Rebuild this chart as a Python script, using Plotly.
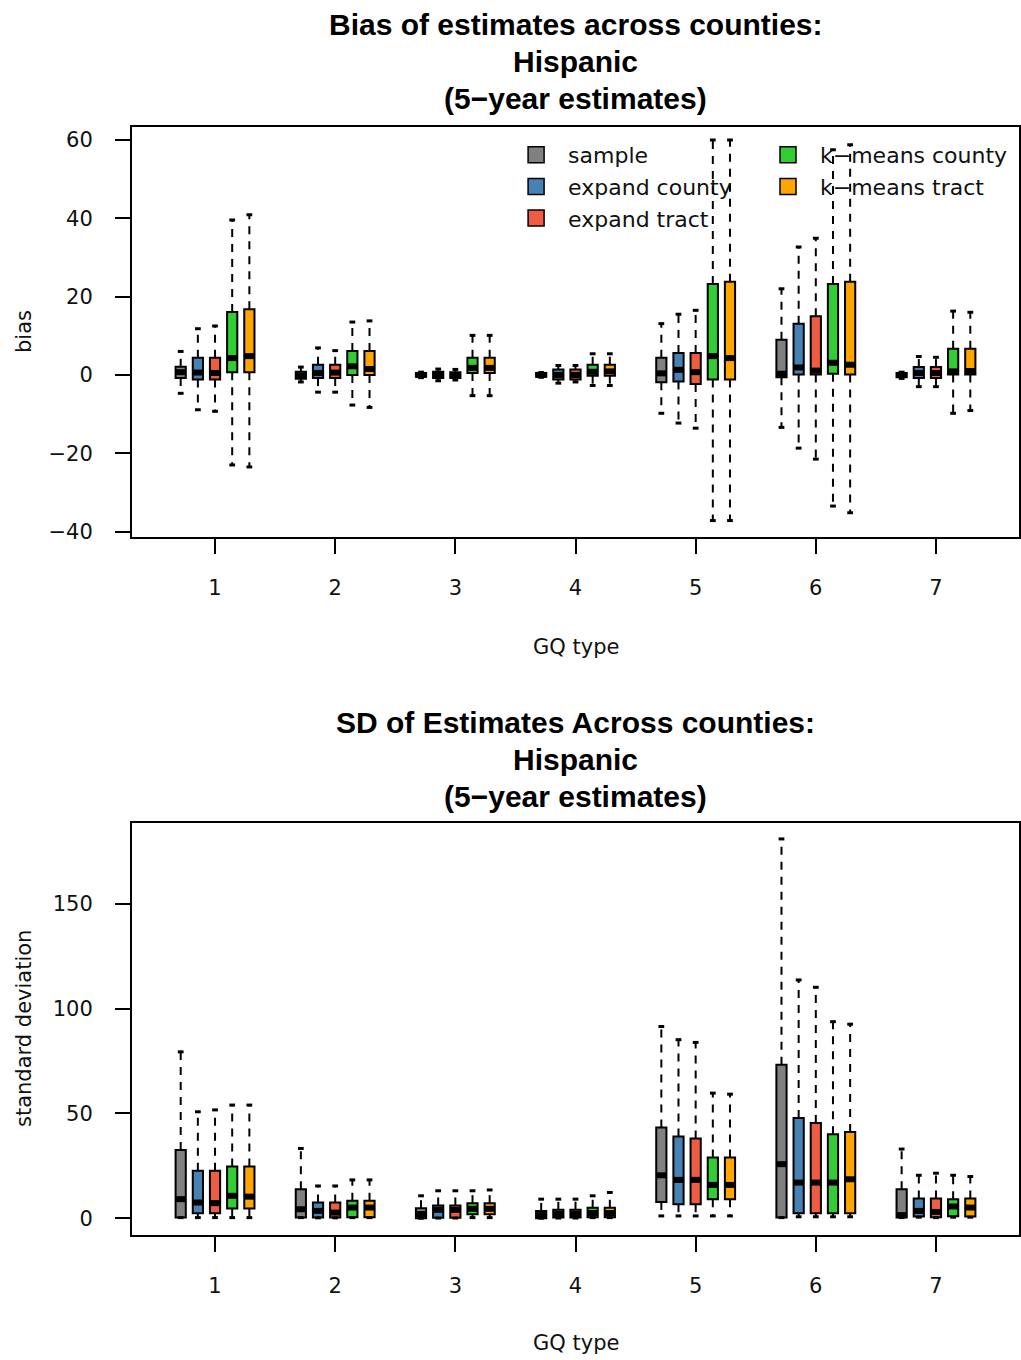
import plotly.graph_objects as go

# ---------------- data ----------------
gq_types = [1, 2, 3, 4, 5, 6, 7]
series_names = ["sample", "expand county", "expand tract", "k\u2212means county", "k\u2212means tract"]
series_colors = ["#808080", "#4682B4", "#EE5C42", "#32CD32", "#FFA500"]

# rows: GQ type 1..7 ; columns: lower whisker, Q1, median, Q3, upper whisker
bias_sample = [(-4.7, -0.8, 0.7, 2.1, 6.0), (-1.8, -1.0, -0.2, 0.8, 2.0), (-0.7, -0.5, 0.0, 0.5, 0.7),
               (-0.6, -0.5, 0.0, 0.5, 0.6), (-9.8, -1.9, 0.4, 4.4, 13.1), (-13.4, -0.6, 0.3, 9.0, 22.0),
               (-0.9, -0.6, 0.0, 0.5, 0.7)]
bias_expand_county = [(-8.9, -1.2, 0.6, 4.4, 11.8), (-4.4, -0.8, 0.5, 2.6, 6.9), (-1.5, -0.8, 0.0, 0.8, 1.5),
                      (-2.1, -1.2, 0.0, 1.4, 2.4), (-12.3, -1.7, 1.3, 5.6, 15.5), (-18.7, 0.1, 1.9, 13.1, 32.7),
                      (-3.0, -0.8, 0.5, 2.0, 4.7)]
bias_expand_tract = [(-9.3, -1.2, 0.5, 4.4, 12.5), (-4.4, -0.8, 0.6, 2.6, 6.2), (-1.3, -0.8, -0.1, 0.7, 1.4),
                     (-1.8, -1.2, 0.0, 1.4, 2.4), (-13.6, -2.3, 0.7, 5.6, 16.5), (-21.5, 0.1, 1.1, 15.0, 34.9),
                     (-3.0, -0.8, 0.5, 2.0, 4.5)]
bias_kmeans_county = [(-23.0, 0.7, 4.3, 16.1, 39.6), (-7.7, 0.0, 2.2, 6.1, 13.5), (-5.3, 0.5, 1.8, 4.4, 10.1),
                      (-2.7, -0.2, 0.8, 2.6, 5.4), (-37.2, -1.2, 4.8, 23.2, 60.0), (-33.5, 0.3, 3.1, 23.2, 57.5),
                      (-9.8, 0.1, 0.9, 6.7, 16.3)]
bias_kmeans_tract = [(-23.5, 0.7, 4.8, 16.8, 40.9), (-8.3, 0.0, 1.5, 6.1, 13.8), (-5.3, 0.5, 1.8, 4.4, 10.1),
                     (-2.7, -0.2, 0.9, 2.6, 5.4), (-37.2, -1.2, 4.3, 23.8, 60.0), (-35.2, 0.1, 2.6, 23.8, 58.8),
                     (-9.1, 0.1, 1.0, 6.7, 16.0)]

sd_sample = [(0.3, 0.3, 9.1, 32.6, 79.4), (0.3, 0.3, 4.3, 13.8, 33.3), (0.0, 0.0, 2.0, 4.8, 10.7),
             (0.0, 0.0, 1.5, 3.5, 9.1), (1.1, 7.8, 20.5, 43.3, 91.5), (0.3, 0.3, 25.8, 73.2, 181.0),
             (0.3, 0.3, 1.5, 13.8, 33.0)]
sd_expand_county = [(0.3, 2.4, 7.5, 22.6, 50.8), (0.2, 0.3, 3.5, 7.5, 15.4), (0.1, 0.2, 4.0, 6.1, 13.1),
                    (0.1, 0.3, 2.0, 4.0, 9.1), (1.1, 6.7, 18.3, 39.0, 85.2), (0.7, 2.4, 17.0, 47.8, 113.7),
                    (0.5, 0.8, 3.5, 9.4, 20.5)]
sd_expand_tract = [(0.3, 2.4, 7.2, 22.6, 51.7), (0.2, 0.3, 2.7, 7.5, 15.4), (0.1, 0.2, 4.0, 6.1, 13.1),
                   (0.1, 0.3, 2.0, 4.1, 9.1), (1.1, 6.7, 18.3, 38.1, 83.9), (0.7, 2.4, 17.0, 45.4, 110.2),
                   (0.3, 0.5, 3.0, 9.4, 21.5)]
sd_kmeans_county = [(0.3, 4.6, 10.7, 24.7, 54.0), (0.3, 0.5, 5.1, 8.3, 18.3), (0.3, 1.9, 4.5, 7.2, 13.1),
                    (0.3, 0.5, 2.5, 5.0, 10.7), (1.1, 9.1, 15.9, 29.0, 59.7), (0.7, 2.4, 17.0, 40.1, 93.8),
                    (0.5, 1.0, 5.6, 9.0, 20.5)]
sd_kmeans_tract = [(0.3, 4.6, 10.3, 24.7, 54.0), (0.3, 0.5, 5.1, 8.3, 18.3), (0.3, 1.9, 4.5, 7.2, 13.5),
                   (0.3, 0.5, 2.5, 5.0, 12.3), (1.1, 9.1, 15.9, 29.0, 59.2), (0.7, 2.4, 18.6, 41.2, 92.6),
                   (0.5, 0.8, 5.1, 9.4, 19.9)]

bias_data = [bias_sample, bias_expand_county, bias_expand_tract, bias_kmeans_county, bias_kmeans_tract]
sd_data = [sd_sample, sd_expand_county, sd_expand_tract, sd_kmeans_county, sd_kmeans_tract]

bias_ticks = [-40, -20, 0, 20, 40, 60]
sd_ticks = [0, 50, 100, 150]

# ---------------- style ----------------
OFFSETS = [-2 / 7, -1 / 7, 0, 1 / 7, 2 / 7]
BOXW = 0.085
CAPW = 0.024
TICKFONT = dict(family="DejaVu Sans", size=21, color="#111")
LEGFONT = dict(family="DejaVu Sans", size=22, color="#111")
TITLEFONT = dict(family="Liberation Sans", size=30, color="#000")

fig = go.Figure()


def add_panel(data, xa, ya):
    for si, rows in enumerate(data):
        pos = [g + OFFSETS[si] for g in gq_types]
        lo = [r[0] for r in rows]
        q1 = [r[1] for r in rows]
        med = [r[2] for r in rows]
        q3 = [r[3] for r in rows]
        hi = [r[4] for r in rows]
        # whiskers (dashed)
        wx, wy = [], []
        for p, a, b, c, d in zip(pos, lo, q1, q3, hi):
            wx += [p, p, None, p, p, None]
            wy += [c, d, None, b, a, None]
        fig.add_trace(go.Scatter(x=wx, y=wy, mode="lines", xaxis=xa, yaxis=ya,
                                 line=dict(color="black", width=2, dash="8px,7px"),
                                 showlegend=False, hoverinfo="skip"))
        # staples
        cx, cy = [], []
        for p, a, d in zip(pos, lo, hi):
            cx += [p - CAPW, p + CAPW, None, p - CAPW, p + CAPW, None]
            cy += [d, d, None, a, a, None]
        fig.add_trace(go.Scatter(x=cx, y=cy, mode="lines", xaxis=xa, yaxis=ya,
                                 line=dict(color="black", width=3),
                                 showlegend=False, hoverinfo="skip"))
        # boxes
        fig.add_trace(go.Bar(x=pos, base=q1, y=[b - a for a, b in zip(q1, q3)], width=BOXW,
                             xaxis=xa, yaxis=ya, marker=dict(color=series_colors[si],
                                                             line=dict(color="black", width=2)),
                             showlegend=False, hoverinfo="skip"))
        # medians
        mx, my = [], []
        for p, m in zip(pos, med):
            mx += [p - BOXW / 2, p + BOXW / 2, None]
            my += [m, m, None]
        fig.add_trace(go.Scatter(x=mx, y=my, mode="lines", xaxis=xa, yaxis=ya,
                                 line=dict(color="black", width=6),
                                 showlegend=False, hoverinfo="skip"))


add_panel(bias_data, "x", "y")
add_panel(sd_data, "x2", "y2")

# legend entries
for si, name in enumerate(series_names):
    fig.add_trace(go.Scatter(x=[None], y=[None], mode="markers", name=name,
                             legend="legend" if si < 3 else "legend2",
                             legendgroup=name,
                             marker=dict(symbol="square", size=16, color=series_colors[si],
                                         line=dict(color="black", width=1.5))))

H = 1360.0


def py(px):
    return 1 - px / H


axis_common = dict(showline=True, mirror=True, linecolor="black", linewidth=2, showgrid=False,
                   zeroline=False, ticks="outside", ticklen=15, tickwidth=2, tickcolor="black",
                   tickfont=TICKFONT, automargin=False)

fig.update_layout(
    width=1021, height=1360, margin=dict(l=132, r=2, t=0, b=0, autoexpand=False),
    paper_bgcolor="white", plot_bgcolor="white", barmode="overlay",
    xaxis=dict(domain=[0, 1], range=[0.309, 7.691], tickvals=gq_types, anchor="y",
               ticklabelstandoff=16, **axis_common),
    yaxis=dict(domain=[py(537), py(126.5)], range=[-41.4, 63.45], tickvals=bias_ticks, anchor="x",
               ticklabelstandoff=18, **axis_common),
    xaxis2=dict(domain=[0, 1], range=[0.309, 7.691], tickvals=gq_types, anchor="y2",
                ticklabelstandoff=16, **axis_common),
    yaxis2=dict(domain=[py(1235), py(823)], range=[-8.0, 188.6], tickvals=sd_ticks, anchor="x2",
                ticklabelstandoff=18, **axis_common),
    legend=dict(x=0.4195, y=py(134), xanchor="left", yanchor="top", bgcolor="rgba(0,0,0,0)",
                font=LEGFONT, tracegroupgap=0, itemsizing="trace", itemwidth=54),
    legend2=dict(x=0.7035, y=py(134), xanchor="left", yanchor="top", bgcolor="rgba(0,0,0,0)",
                 font=LEGFONT, tracegroupgap=0, itemsizing="trace", itemwidth=54),
    showlegend=True,
)

titles = [
    ("Bias of estimates across counties:", 24), ("Hispanic", 62), ("(5\u2212year estimates)", 99),
    ("SD of Estimates Across counties:", 722), ("Hispanic", 759), ("(5\u2212year estimates)", 796),
]
for txt, ypx in titles:
    fig.add_annotation(text="<b>" + txt + "</b>", x=0.5, y=py(ypx), xref="paper", yref="paper",
                       xanchor="center", yanchor="middle", showarrow=False, font=TITLEFONT)

for txt, ypx in [("GQ type", 647), ("GQ type", 1343)]:
    fig.add_annotation(text=txt, x=0.5, y=py(ypx), xref="paper", yref="paper", xanchor="center",
                       yanchor="middle", showarrow=False, font=TICKFONT)

for txt, ypx in [("bias", 332), ("standard deviation", 1029)]:
    fig.add_annotation(text=txt, x=(24 - 132) / 887.0, y=py(ypx), xref="paper", yref="paper",
                       xanchor="center", yanchor="middle", textangle=-90, showarrow=False,
                       font=TICKFONT)

fig.write_html("out.html")
